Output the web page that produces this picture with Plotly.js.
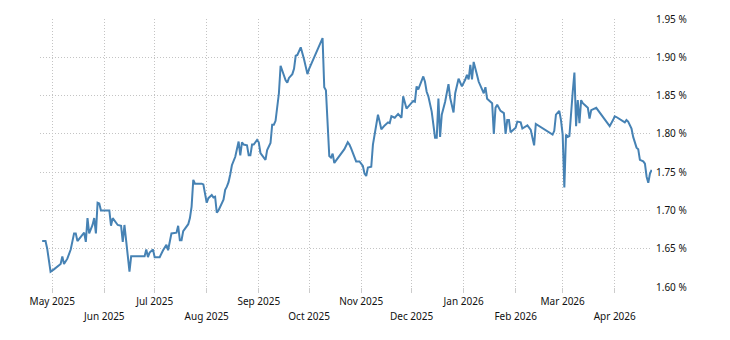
<!DOCTYPE html>
<html>
<head>
<meta charset="utf-8">
<script src="https://cdn.plot.ly/plotly-3.0.1.min.js"></script>
<style>
  html, body { margin: 0; padding: 0; background: #ffffff; }
  #chart { width: 730px; height: 340px; }
</style>
</head>
<body>
<div id="chart"></div>
<script>
// ---- Data ----
const dates = [
  "2025-04-25","2025-04-27","2025-04-28","2025-04-30","2025-05-02","2025-05-06","2025-05-07","2025-05-08","2025-05-10","2025-05-12",
  "2025-05-14","2025-05-15","2025-05-16","2025-05-18","2025-05-20","2025-05-21","2025-05-22","2025-05-23","2025-05-25","2025-05-26",
  "2025-05-27","2025-05-28","2025-05-29","2025-05-30","2025-06-04","2025-06-05","2025-06-06","2025-06-09","2025-06-11","2025-06-12",
  "2025-06-13","2025-06-14","2025-06-15","2025-06-16","2025-06-17","2025-06-25","2025-06-26","2025-06-27","2025-06-28","2025-06-30",
  "2025-07-01","2025-07-04","2025-07-06","2025-07-08","2025-07-09","2025-07-10","2025-07-11","2025-07-14","2025-07-15","2025-07-16",
  "2025-07-17","2025-07-18","2025-07-21","2025-07-22","2025-07-23","2025-07-24","2025-07-25","2025-07-29","2025-07-30","2025-07-31",
  "2025-08-01","2025-08-02","2025-08-04","2025-08-05","2025-08-06","2025-08-07","2025-08-08","2025-08-11","2025-08-12","2025-08-13",
  "2025-08-14","2025-08-15","2025-08-16","2025-08-18","2025-08-19","2025-08-20","2025-08-21","2025-08-22","2025-08-23","2025-08-25",
  "2025-08-26","2025-08-27","2025-08-28","2025-08-29","2025-08-31","2025-09-01","2025-09-02","2025-09-04","2025-09-05","2025-09-06",
  "2025-09-08","2025-09-09","2025-09-10","2025-09-11","2025-09-13","2025-09-14","2025-09-16","2025-09-17","2025-09-18","2025-09-19",
  "2025-09-21","2025-09-22","2025-09-23","2025-09-24","2025-09-26","2025-09-27","2025-09-28","2025-09-30","2025-10-01","2025-10-09",
  "2025-10-10","2025-10-11","2025-10-12","2025-10-13","2025-10-14","2025-10-15","2025-10-16","2025-10-18","2025-10-20","2025-10-21",
  "2025-10-22","2025-10-24","2025-10-25","2025-10-26","2025-10-28","2025-10-29","2025-10-31","2025-11-01","2025-11-02","2025-11-03",
  "2025-11-04","2025-11-05","2025-11-07","2025-11-08","2025-11-10","2025-11-11","2025-11-12","2025-11-13","2025-11-15","2025-11-17",
  "2025-11-18","2025-11-19","2025-11-21","2025-11-23","2025-11-25","2025-11-26","2025-11-28","2025-11-30","2025-12-02","2025-12-03",
  "2025-12-04","2025-12-05","2025-12-06","2025-12-08","2025-12-09","2025-12-10","2025-12-11","2025-12-13","2025-12-15","2025-12-16",
  "2025-12-17","2025-12-18","2025-12-19","2025-12-21","2025-12-23","2025-12-24","2025-12-26","2025-12-27","2025-12-29","2025-12-31",
  "2026-01-02","2026-01-03","2026-01-04","2026-01-05","2026-01-06","2026-01-07","2026-01-09","2026-01-10","2026-01-12","2026-01-13",
  "2026-01-14","2026-01-15","2026-01-17","2026-01-18","2026-01-19","2026-01-20","2026-01-21","2026-01-23","2026-01-25","2026-01-26",
  "2026-01-27","2026-01-28","2026-01-29","2026-01-30","2026-02-01","2026-02-02","2026-02-04","2026-02-05","2026-02-07","2026-02-08",
  "2026-02-10","2026-02-11","2026-02-12","2026-02-13","2026-02-23","2026-02-24","2026-02-25","2026-02-27","2026-02-28","2026-03-01",
  "2026-03-02","2026-03-03","2026-03-04","2026-03-05","2026-03-06","2026-03-07","2026-03-08","2026-03-09","2026-03-10","2026-03-11",
  "2026-03-12","2026-03-13","2026-03-15","2026-03-16","2026-03-17","2026-03-18","2026-03-21","2026-03-22","2026-03-24","2026-03-26",
  "2026-03-28","2026-03-29","2026-03-31","2026-04-01","2026-04-02","2026-04-04","2026-04-06","2026-04-07","2026-04-08","2026-04-09",
  "2026-04-11","2026-04-12","2026-04-14","2026-04-15","2026-04-16","2026-04-18","2026-04-19","2026-04-20","2026-04-21","2026-04-22",
  "2026-04-23"
];
const yields = [
  1.660,1.660,1.650,1.620,1.623,1.630,1.640,1.630,1.637,1.649,
  1.670,1.670,1.660,1.666,1.671,1.659,1.690,1.670,1.681,1.690,
  1.670,1.710,1.709,1.700,1.700,1.680,1.690,1.681,1.680,1.659,
  1.681,1.661,1.639,1.620,1.640,1.640,1.649,1.639,1.645,1.649,
  1.639,1.639,1.648,1.655,1.648,1.661,1.670,1.671,1.680,1.661,
  1.661,1.673,1.682,1.690,1.705,1.740,1.735,1.735,1.734,1.722,
  1.710,1.716,1.720,1.717,1.718,1.697,1.700,1.714,1.727,1.731,
  1.737,1.747,1.759,1.770,1.779,1.790,1.772,1.789,1.786,1.785,
  1.772,1.772,1.786,1.786,1.792,1.789,1.775,1.768,1.766,1.779,
  1.788,1.812,1.812,1.817,1.853,1.889,1.875,1.870,1.867,1.873,
  1.878,1.885,1.902,1.903,1.913,1.906,1.897,1.878,1.885,1.925,
  1.861,1.857,1.810,1.771,1.769,1.774,1.762,1.768,1.775,1.777,
  1.780,1.789,1.786,1.781,1.770,1.764,1.764,1.761,1.758,1.748,
  1.745,1.756,1.757,1.786,1.814,1.825,1.816,1.806,1.811,1.815,
  1.814,1.823,1.821,1.826,1.821,1.849,1.833,1.838,1.843,1.842,
  1.862,1.858,1.863,1.875,1.868,1.855,1.849,1.829,1.795,1.795,
  1.846,1.796,1.825,1.842,1.865,1.847,1.828,1.853,1.872,1.862,
  1.871,1.877,1.871,1.890,1.871,1.894,1.877,1.868,1.858,1.853,
  1.861,1.846,1.842,1.840,1.800,1.834,1.838,1.830,1.827,1.800,
  1.818,1.818,1.802,1.804,1.808,1.816,1.815,1.807,1.810,1.811,
  1.805,1.796,1.785,1.813,1.799,1.804,1.825,1.830,1.818,1.799,
  1.730,1.799,1.796,1.797,1.831,1.855,1.880,1.810,1.844,1.814,
  1.844,1.840,1.836,1.834,1.820,1.831,1.834,1.831,1.825,1.820,
  1.814,1.810,1.818,1.823,1.822,1.819,1.817,1.815,1.818,1.816,
  1.807,1.796,1.782,1.780,1.766,1.764,1.761,1.744,1.736,1.748,
  1.753
];
const monthTicks = [
  "2025-05-01","2025-06-01","2025-07-01","2025-08-01","2025-09-01","2025-10-01",
  "2025-11-01","2025-12-01","2026-01-01","2026-02-01","2026-03-01","2026-04-01"
];
const monthLabels = [
  "May 2025","Jun 2025","Jul 2025","Aug 2025","Sep 2025","Oct 2025",
  "Nov 2025","Dec 2025","Jan 2026","Feb 2026","Mar 2026","Apr 2026"
];
const yTicks = [1.60, 1.65, 1.70, 1.75, 1.80, 1.85, 1.90, 1.95];
const yTickLabels = ["1.60 %","1.65 %","1.70 %","1.75 %","1.80 %","1.85 %","1.90 %","1.95 %"];

// ---- Build chart ----
const upperText = monthLabels.map((t, i) => (i % 2 === 0 ? t : ""));
const lowerVals = monthTicks.filter((_, i) => i % 2 === 1);
const lowerText = monthLabels.filter((_, i) => i % 2 === 1);
const xRange = ["2025-04-23 17:00", "2026-04-23 05:00"];
const font = { family: "Noto Sans, Open Sans, sans-serif", size: 10, color: "#111111" };
const gridDash = "1px,2px";

const traces = [
  {
    x: dates, y: yields, type: "scatter", mode: "lines",
    line: { color: "#4682b4", width: 2 },
    hoverinfo: "skip", showlegend: false
  },
  {
    x: dates, y: yields, type: "scatter", mode: "lines", xaxis: "x2",
    line: { color: "rgba(0,0,0,0)", width: 0 },
    hoverinfo: "skip", showlegend: false
  }
];

const layout = {
  width: 730, height: 340,
  margin: { l: 40, r: 78, t: 19, b: 53, pad: 0 },
  paper_bgcolor: "#ffffff", plot_bgcolor: "#ffffff",
  font: font,
  showlegend: false,
  xaxis: {
    type: "date", range: xRange,
    tickmode: "array", tickvals: monthTicks, ticktext: upperText,
    showgrid: true, gridcolor: "#c4c4c4", griddash: gridDash, gridwidth: 1,
    ticks: "outside", ticklen: 5, tickcolor: "#cccccc", tickwidth: 1,
    showline: false, zeroline: false, tickfont: font, fixedrange: true
  },
  xaxis2: {
    type: "date", range: xRange, overlaying: "x", anchor: "y", side: "bottom",
    tickmode: "array", tickvals: lowerVals, ticktext: lowerText,
    showgrid: false, ticks: "", ticklabelstandoff: 22,
    showline: false, zeroline: false, tickfont: font, fixedrange: true
  },
  yaxis: {
    range: [1.60, 1.95], side: "right",
    tickmode: "array", tickvals: yTicks, ticktext: yTickLabels,
    showgrid: true, gridcolor: "#c4c4c4", griddash: gridDash, gridwidth: 1,
    ticks: "", ticklabelstandoff: 3,
    showline: false, zeroline: false, tickfont: font, fixedrange: true
  }
};

Plotly.newPlot("chart", traces, layout, { displayModeBar: false, staticPlot: true });
</script>
</body>
</html>
